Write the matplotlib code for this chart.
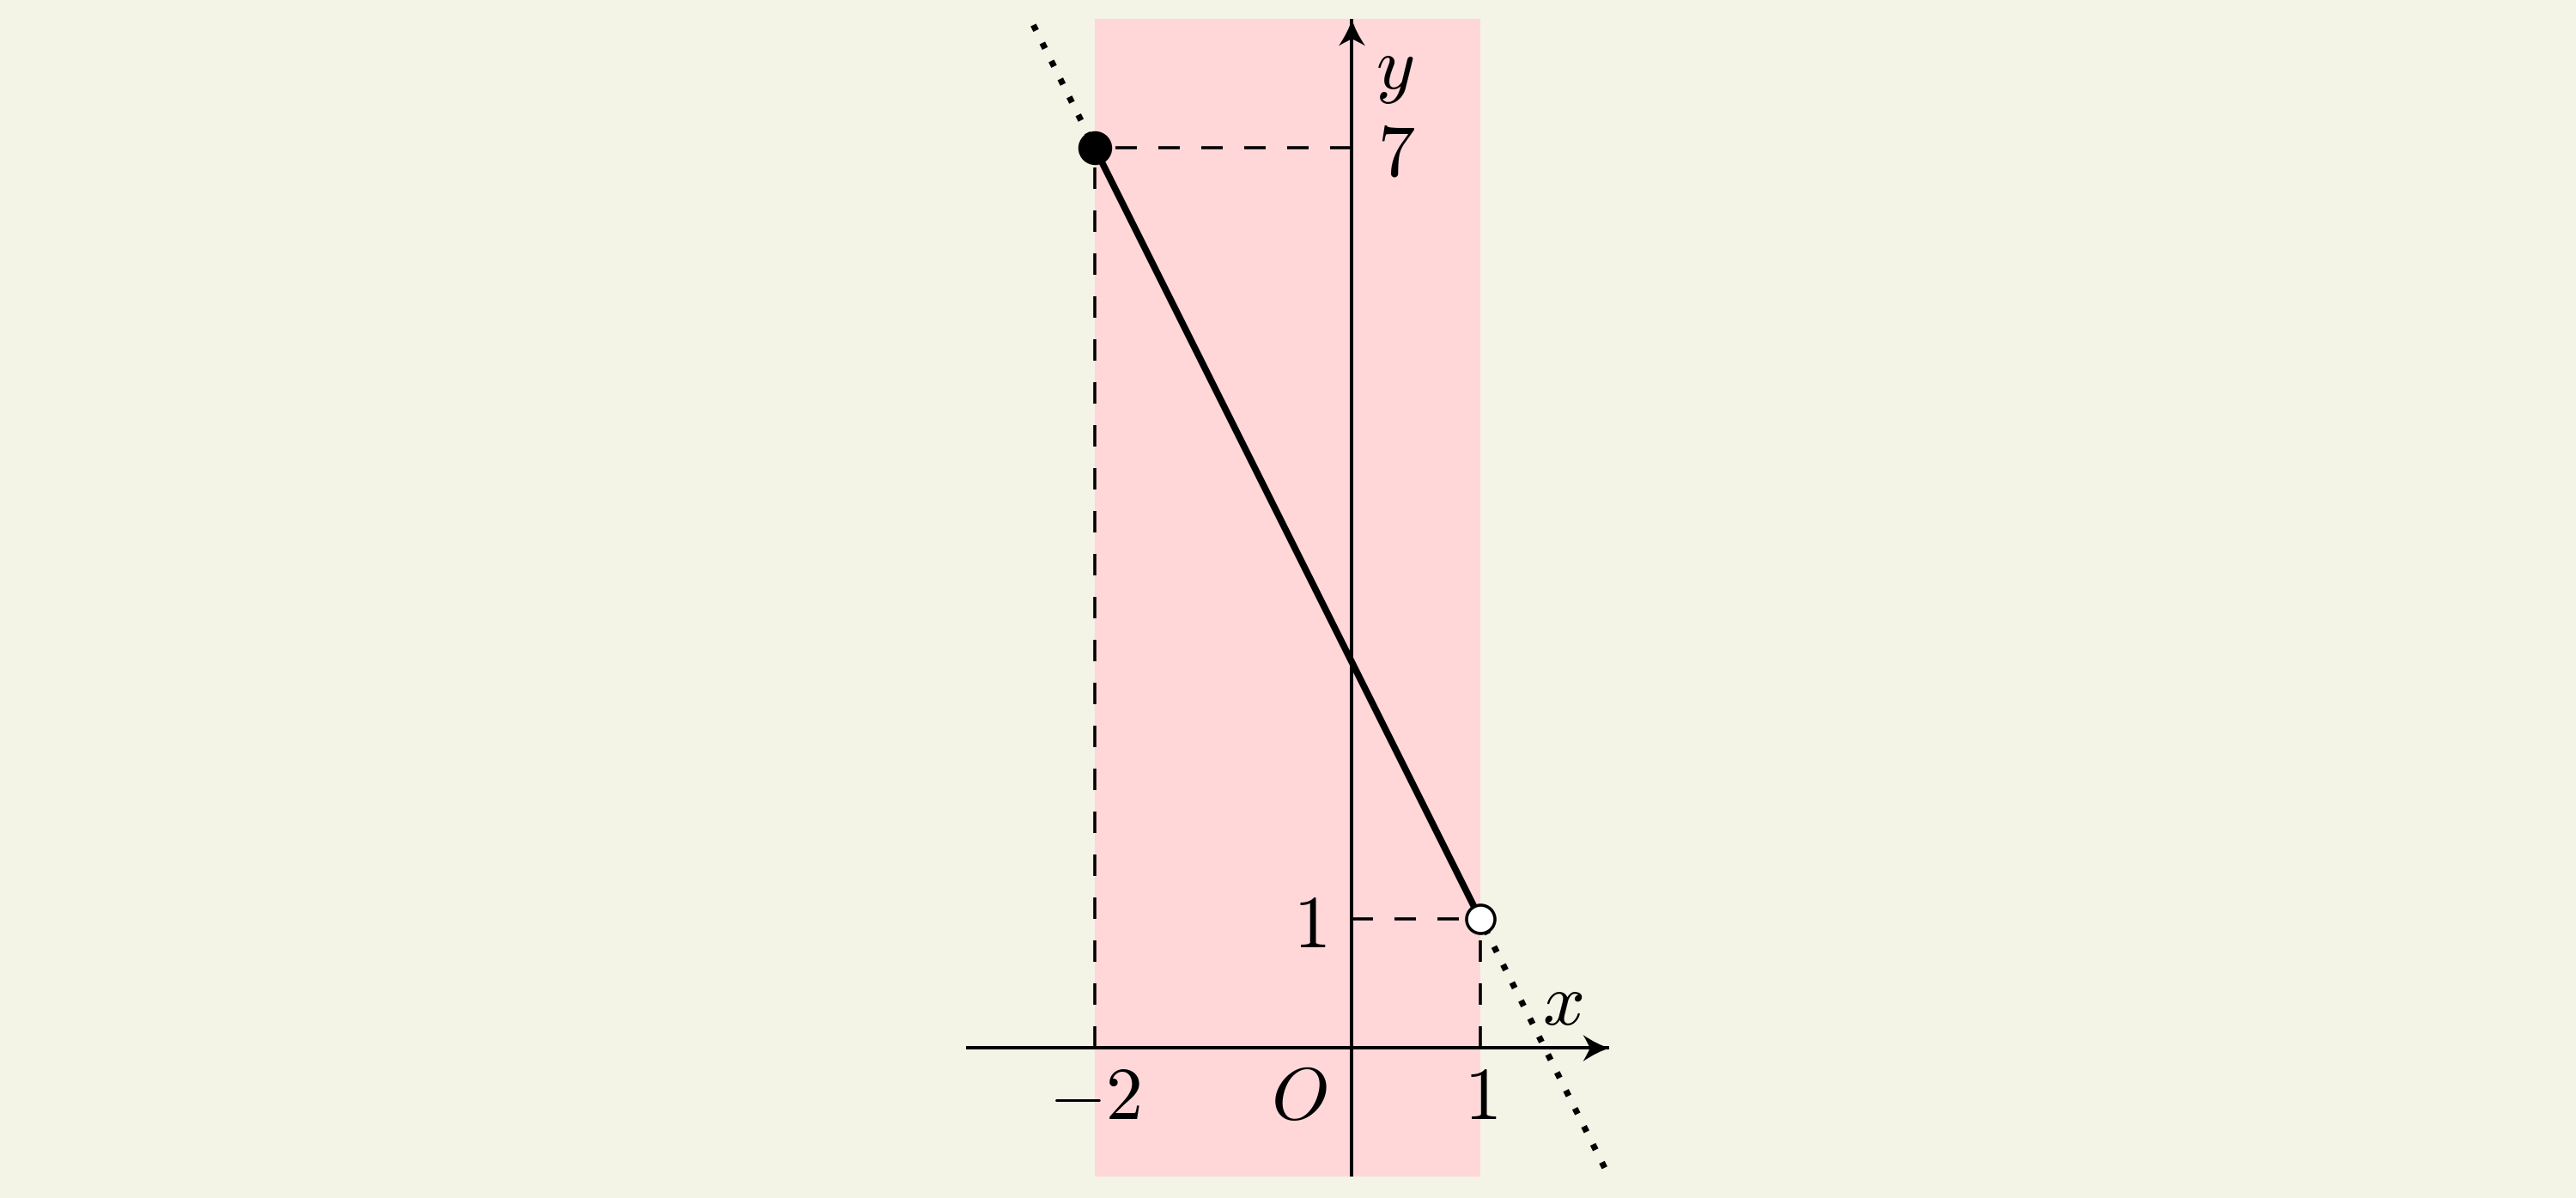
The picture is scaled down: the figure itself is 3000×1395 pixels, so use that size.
import matplotlib
matplotlib.use("Agg")
import matplotlib.pyplot as plt
from matplotlib.path import Path
from matplotlib.patches import Rectangle

plt.rcParams['mathtext.fontset'] = 'cm'

# ---- data ----
seg_x = [-2, 1]
seg_y = [7, 1]
ext_left_x = [-2, -2.5]
ext_left_y = [7, 8]
ext_right_x = [1, 2]
ext_right_y = [1, -1]
band_x = [-2, 1]
band_y = [-1, 8]
x_axis = [-3, 2]
y_axis = [-1, 8]
xtick_vals = [-2, 1]
xtick_labels = [r'$-2$', r'$1$']
ytick_vals = [1, 7]
ytick_labels = [r'$1$', r'$7$']

BG = '#F3F3E6'
PINK = '#FFD7D9'
DPI = 100
W, H = 3000, 1395
UNIT = 149.7
X0PX, Y0PX = 1574.3, 175.0

fig = plt.figure(figsize=(W / DPI, H / DPI), dpi=DPI, facecolor=BG)
ax = fig.add_axes([0, 0, 1, 1])
ax.set_facecolor(BG)
ax.set_xlim(-X0PX / UNIT, (W - X0PX) / UNIT)
ax.set_ylim(-Y0PX / UNIT, (H - Y0PX) / UNIT)
ax.axis('off')

px2pt = 72.0 / DPI

# band
ax.add_patch(Rectangle((band_x[0], band_y[0]), band_x[1] - band_x[0], band_y[1] - band_y[0],
                       facecolor=PINK, edgecolor='none', zorder=0))

# axes lines
axis_lw = 4.0 * px2pt
ax.plot(x_axis, [0, 0], color='black', lw=axis_lw, zorder=2, solid_capstyle='butt')
ax.plot([0, 0], y_axis, color='black', lw=axis_lw, zorder=2, solid_capstyle='butt')

# arrowheads as custom markers (tip at origin)
def head_path(direction):
    verts = [(0, 0), (-0.45, 0.13), (-1.0, 0.5), (-0.8, 0.16), (-0.74, 0.0),
             (-0.8, -0.16), (-1.0, -0.5), (-0.45, -0.13), (0, 0)]
    codes = [Path.MOVETO, Path.CURVE3, Path.CURVE3, Path.CURVE3, Path.CURVE3,
             Path.CURVE3, Path.CURVE3, Path.CURVE3, Path.CURVE3]
    if direction == 'up':
        verts = [(y, x) for x, y in verts]
    return Path(verts, codes)

head_len_pt = 31 * px2pt
ax.plot([x_axis[1]], [0], marker=head_path('right'), markersize=2 * head_len_pt,
        color='black', markeredgewidth=0, clip_on=False, zorder=3)
ax.plot([0], [y_axis[1]], marker=head_path('up'), markersize=2 * head_len_pt,
        color='black', markeredgewidth=0, clip_on=False, zorder=3)

# dashed guide lines (anchored at axes)
dash_lw = 3.6 * px2pt
dash_on = 25 * px2pt / dash_lw
dash_off = 25 * px2pt / dash_lw
dstyle = (0, (dash_on, dash_off))
ax.plot([0, seg_x[0]], [seg_y[0], seg_y[0]], color='black', lw=dash_lw, ls=dstyle, zorder=2)
ax.plot([seg_x[0], seg_x[0]], [0, seg_y[0]], color='black', lw=dash_lw, ls=dstyle, zorder=2)
ax.plot([0, seg_x[1]], [seg_y[1], seg_y[1]], color='black', lw=dash_lw, ls=dstyle, zorder=2)
ax.plot([seg_x[1], seg_x[1]], [0, seg_y[1]], color='black', lw=dash_lw, ls=dstyle, zorder=2)

# main segment
ax.plot(seg_x, seg_y, color='black', lw=7.8 * px2pt, zorder=4, solid_capstyle='butt')

# dotted extensions
dot_lw = 7.2 * px2pt
dot_on = 1.0
dot_off = (23.4 - 7.2) / 7.2
dot_off_px = 11.1
dotstyle = (dot_off_px * px2pt / dot_lw, (dot_on, dot_off))
ax.plot(ext_left_x, ext_left_y, color='black', lw=dot_lw, ls=dotstyle,
        dash_capstyle='butt', zorder=3)
ax.plot(ext_right_x, ext_right_y, color='black', lw=dot_lw, ls=dotstyle,
        dash_capstyle='butt', zorder=3)

# endpoints
ax.plot([seg_x[0]], [seg_y[0]], 'o', color='black', markersize=38 * px2pt, zorder=5)
ax.plot([seg_x[1]], [seg_y[1]], 'o', markerfacecolor='white', markeredgecolor='black',
        markeredgewidth=3.6 * px2pt, markersize=33 * px2pt, zorder=5)

# labels
fs = 62
for v, lab in zip(xtick_vals, xtick_labels):
    ax.text(v, -0.555, lab, fontsize=fs, ha='center', va='baseline', zorder=6)
ax.text(-0.41, -0.555, r'$O$', fontsize=fs, ha='center', va='baseline', zorder=6)
ytick_xpos = {1: -0.33, 7: 0.345}
for v, lab in zip(ytick_vals, ytick_labels):
    ax.text(ytick_xpos[v], v, lab, fontsize=fs, ha='center', va='center_baseline', zorder=6)
ax.text(1.64, 0.18, r'$x$', fontsize=fs, ha='center', va='baseline', zorder=6)
ax.text(0.333, 7.46, r'$y$', fontsize=fs, ha='center', va='baseline', zorder=6)

fig.savefig('out.png', dpi=DPI, facecolor=BG)
